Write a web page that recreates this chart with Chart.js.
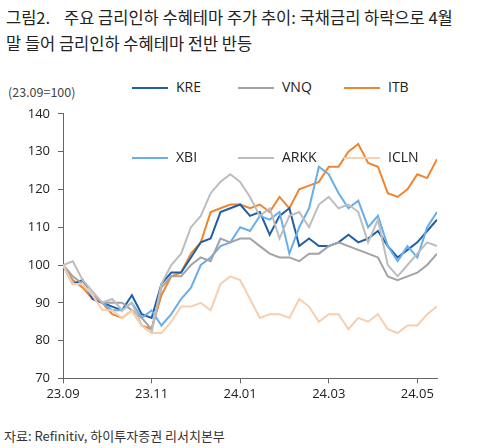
<!DOCTYPE html>
<html><head><meta charset="utf-8">
<script src="https://cdn.jsdelivr.net/npm/chart.js@4"></script>
<style>
body{margin:0;width:500px;height:448px;background:#fff;font-family:"Noto Sans CJK KR","Noto Sans",sans-serif;position:relative;overflow:hidden;color:#222}
#title{position:absolute;left:6px;top:4px;font-size:16.5px;line-height:26px;}
#title .n{display:inline-block;width:58px}
#unit{position:absolute;left:8px;top:82px;font-size:12.5px;color:#444}
#src{position:absolute;left:4px;top:426px;font-size:13px;color:#333}
#wrap{position:absolute;left:0;top:98px;width:470px;height:307px}
.lg{position:absolute;font-size:14px;color:#222;font-family:"Open Sans",sans-serif}
.lg i{display:inline-block;width:36px;height:0;border-top:2.5px solid;vertical-align:middle;margin-right:8px}
</style></head><body>
<div id="title"><span class="n">그림2.</span>주요 금리인하 수혜테마 주가 추이: 국채금리 하락으로 4월<br>말 들어 금리인하 수혜테마 전반 반등</div>
<div id="unit">(23.09=100)</div>
<div id="wrap"><canvas id="c"></canvas></div>
<div id="legend"></div>
<div id="src">자료: Refinitiv, 하이투자증권 리서치본부</div>
<script>
const tickPos = [0, 9, 18, 27, 36];
const tickLabels = ['23.09', '23.11', '24.01', '24.03', '24.05'];
const seriesNames = ['KRE', 'VNQ', 'ITB', 'XBI', 'ARKK', 'ICLN'];
const seriesColors = ['#1f5fa8', '#a3a3a3', '#ee8533', '#6aaee8', '#bdbdbd', '#f8cfae'];
const kre  = [100,95,96,91,90,89,88,92,87,86,95,98,98,102,106,107,114,115,116,113,114,108,113,115,105,107,105,105,106,108,106,107,109,105,102,104,106,109,112];
const vnq  = [100,97,95,92,90,90,90,88,86,83,94,97,97,100,102,101,107,106,107,107,105,103,102,102,101,103,103,105,106,105,104,103,102,97,96,97,98,100,103];
const itb  = [100,96,94,91,90,87,86,88,84,83,92,97,98,103,106,114,115,116,116,115,116,114,118,115,120,121,122,126,126,130,132,127,126,119,118,120,124,123,128];
const xbi  = [100,95,95,92,90,88,88,90,86,88,84,87,91,94,100,102,105,106,110,109,113,112,114,103,110,115,126,124,119,115,117,110,113,105,101,105,102,110,114];
const arkk = [100,101,96,93,90,91,88,90,84,82,95,100,103,110,113,119,122,124,122,118,113,115,107,113,114,110,116,118,115,116,114,106,112,100,97,100,103,106,105];
const icln = [100,95,95,92,88,88,86,88,84,82,82,85,89,89,90,88,95,97,96,91,86,87,87,86,91,89,85,87,87,83,86,85,87,83,82,84,84,87,89];
const allSeries = [kre, vnq, itb, xbi, arkk, icln];

// legend: 2 rows x 3
const lgCols = [132, 238, 344];
const lgRows = [77, 147];
seriesNames.forEach((n, k) => {
    const d = document.createElement('div');
    d.className = 'lg';
    d.style.left = lgCols[k % 3] + 'px';
    d.style.top = lgRows[Math.floor(k / 3)] + 'px';
    d.innerHTML = '<i style="border-color:' + seriesColors[k] + '"></i>' + n;
    document.getElementById('legend').appendChild(d);
});

const order = [5, 4, 1, 3, 0, 2]; // draw light ones underneath
new Chart(document.getElementById('c'), {
    type: 'line',
    data: {
        datasets: order.map(k => ({
            label: seriesNames[k],
            data: allSeries[k].map((v, i) => ({ x: i, y: v })),
            borderColor: seriesColors[k],
            borderWidth: 2,
            pointRadius: 0,
            tension: 0,
            fill: false
        }))
    },
    options: {
        responsive: true,
        maintainAspectRatio: false,
        animation: false,
        layout: { padding: { top: 10, right: 33 } },
        plugins: { legend: { display: false }, tooltip: { enabled: false } },
        scales: {
            x: {
                type: 'linear', min: 0, max: 38,
                afterBuildTicks: ax => { ax.ticks = tickPos.map(v => ({ value: v })); },
                ticks: { color: '#222', font: { size: 13, family: 'Open Sans' }, maxRotation: 0,
                    callback: v => tickLabels[tickPos.indexOf(v)] },
                grid: { display: true, drawOnChartArea: false, tickLength: 5, color: '#666' },
                border: { color: '#666' }
            },
            y: {
                min: 70, max: 140,
                ticks: { stepSize: 10, color: '#222', font: { size: 13, family: 'Open Sans' }, padding: 8 },
                grid: { display: true, drawOnChartArea: false, tickLength: 5, color: '#666' },
                border: { color: '#666' },
                afterFit: ax => { ax.width = 63; }
            }
        }
    }
});
</script>
</body></html>
